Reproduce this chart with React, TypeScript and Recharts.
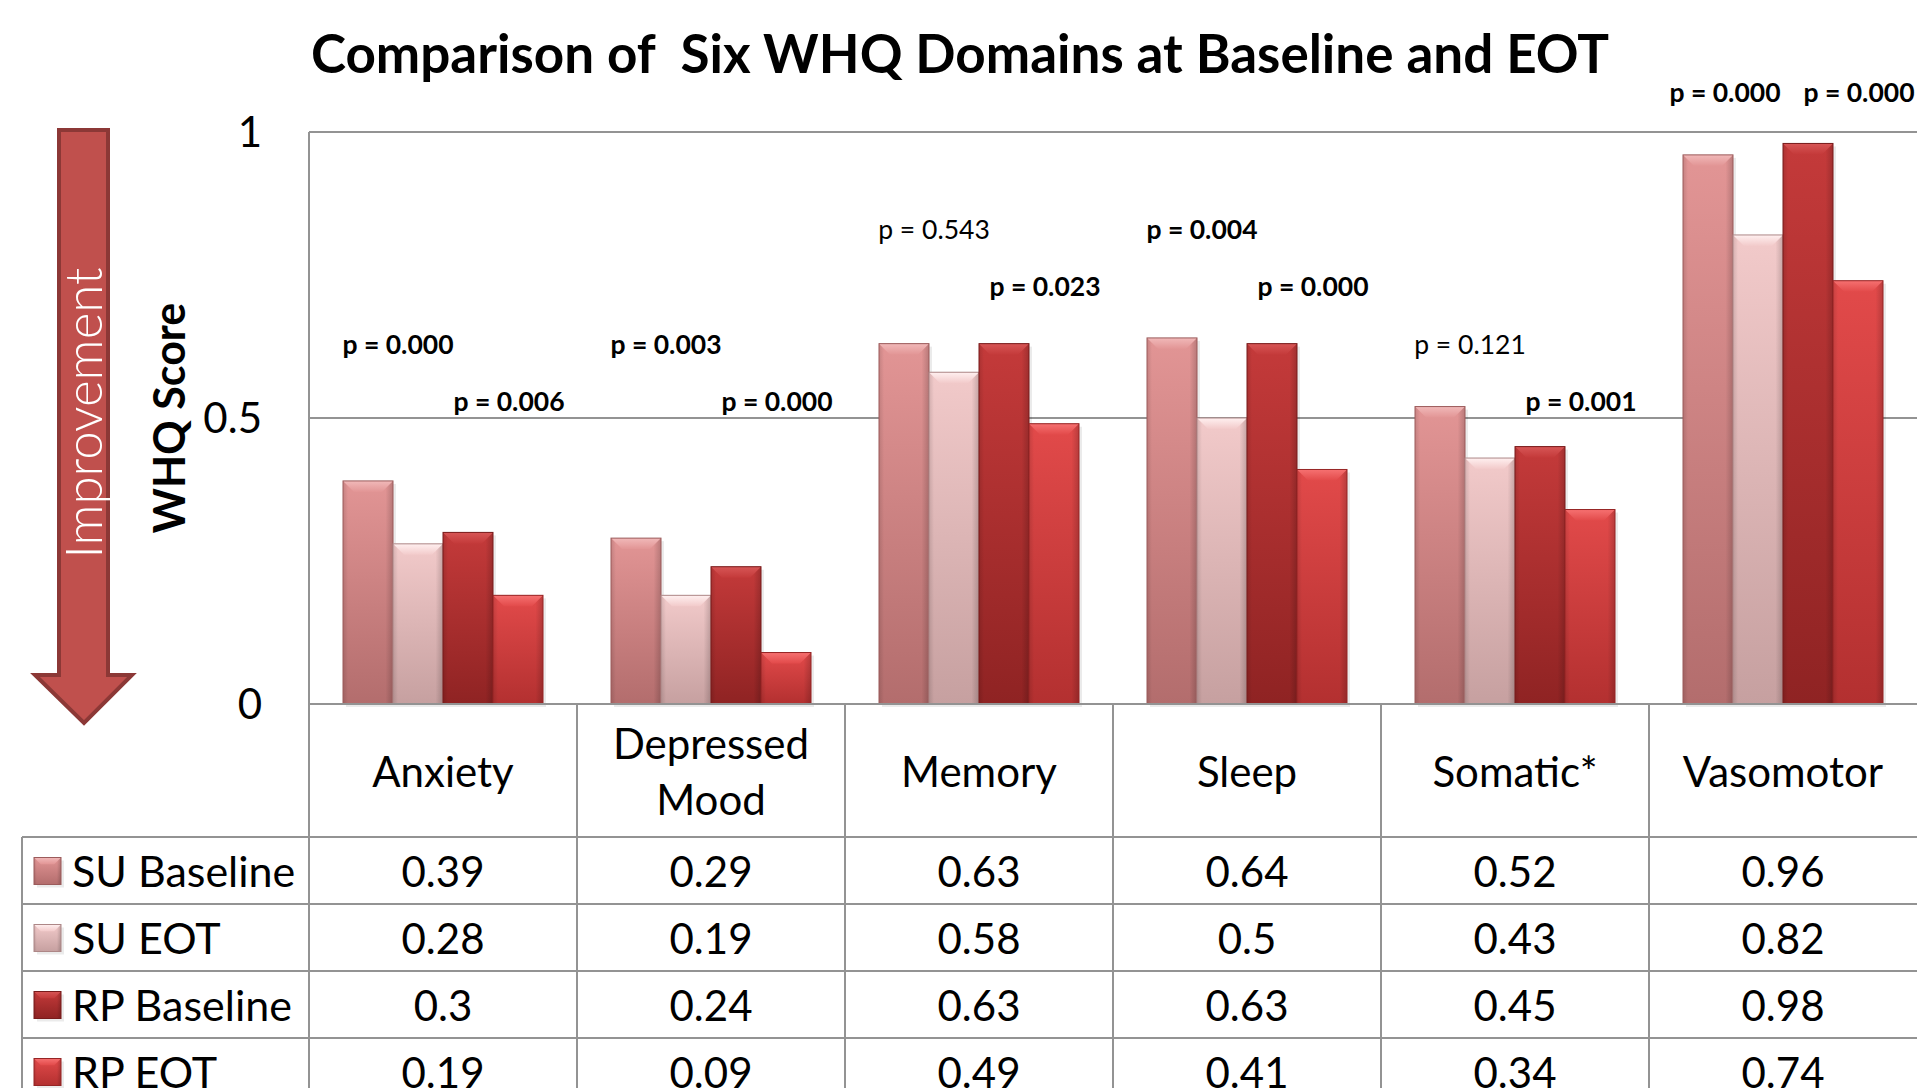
import React from 'react';
import { BarChart, Bar, XAxis, YAxis, CartesianGrid, LabelList } from 'recharts';

const categories = ['Anxiety', 'Depressed Mood', 'Memory', 'Sleep', 'Somatic*', 'Vasomotor'];
const suBaseline = [0.39, 0.29, 0.63, 0.64, 0.52, 0.96];
const suEot = [0.28, 0.19, 0.58, 0.5, 0.43, 0.82];
const rpBaseline = [0.3, 0.24, 0.63, 0.63, 0.45, 0.98];
const rpEot = [0.19, 0.09, 0.49, 0.41, 0.34, 0.74];

// p-values written above the SU pair and the RP pair of each domain
const pSu = ['p = 0.000', 'p = 0.003', 'p = 0.543', 'p = 0.004', 'p = 0.121', 'p = 0.000'];
const pSuBold = [true, true, false, true, false, true];
const pSuLevel = [0.63, 0.63, 0.83, 0.83, 0.63, 1.07];
const pRp = ['p = 0.006', 'p = 0.000', 'p = 0.023', 'p = 0.000', 'p = 0.001', 'p = 0.000'];
const pRpLevel = [0.53, 0.53, 0.73, 0.73, 0.53, 1.07];

const yTicks = [0, 0.5, 1];

const series = [
  { key: 'suBase', name: 'SU Baseline', values: suBaseline },
  { key: 'suEot', name: 'SU EOT', values: suEot },
  { key: 'rpBase', name: 'RP Baseline', values: rpBaseline },
  { key: 'rpEot', name: 'RP EOT', values: rpEot },
];

const data = categories.map((domain, i) => ({
  domain,
  suBase: suBaseline[i],
  suEot: suEot[i],
  rpBase: rpBaseline[i],
  rpEot: rpEot[i],
  pSu: pSu[i],
  pRp: pRp[i],
}));

const FONT = 'Lato, Carlito, Calibri, "DejaVu Sans", sans-serif';
const GRID = '#939393';

const palette: Record<string, { top: string; bottom: string; light: string; edge: string }> = {
  suBase: { top: '#e29595', bottom: '#b36d6d', light: '#f1b9b9', edge: '#9b5b5b' },
  suEot: { top: '#f2caca', bottom: '#c6a0a0', light: '#fff0f0', edge: '#ad8787' },
  rpBase: { top: '#c43a3a', bottom: '#8f2323', light: '#d75656', edge: '#781b1b' },
  rpEot: { top: '#e24a4a', bottom: '#b33030', light: '#f67171', edge: '#962525' },
};

const COL_W = (1917 - 309) / categories.length;
const ROW_H = 67;
const CAT_ROW = 133;

const BevelBar = (props: any) => {
  const { x, y, width, height, seriesKey, bevel = 11 } = props;
  if (!height || height <= 0) return null;
  const c = palette[seriesKey];
  const b = Math.min(bevel, height / 2, width / 4);
  return (
    <g>
      <rect x={x + 3} y={y + 3} width={width} height={height} fill="#000" opacity={0.08} />
      <rect x={x} y={y} width={width} height={height} fill={`url(#fill-${seriesKey})`} />
      <rect x={x} y={y} width={width} height={height} fill="url(#sideShade)" />
      <polygon
        points={`${x},${y} ${x + width},${y} ${x + width - b},${y + b} ${x + b},${y + b}`}
        fill={`url(#bevel-${seriesKey})`}
      />
      <rect x={x} y={y} width={width} height={height} fill="none" stroke={c.edge} strokeWidth={1} />
    </g>
  );
};

const makePLabel = (which: 'su' | 'rp') => (props: any) => {
  const vb = props.viewBox || {};
  const x = props.x ?? vb.x;
  const y = props.y ?? vb.y;
  const width = props.width ?? vb.width;
  const height = props.height ?? vb.height;
  const i = props.index;
  const v = which === 'su' ? suEot[i] : rpEot[i];
  if (!v || !height) return null;
  const unit = height / v;
  const level = which === 'su' ? pSuLevel[i] : pRpLevel[i];
  const ly = y + height - level * unit;
  // when both labels sit on the same line, push them apart so they don't touch
  const sameLine = pSuLevel[i] === pRpLevel[i];
  const cx = which === 'su' ? x + (sameLine ? -8 : 5) : x + width / 2 + (sameLine ? 1 : -9);
  const bold = which === 'su' ? pSuBold[i] : true;
  return (
    <text
      x={cx}
      y={ly}
      textAnchor="middle"
      dominantBaseline="central"
      fontFamily={FONT}
      fontSize={26.5}
      fontWeight={bold ? 700 : 400}
      fill="#000"
    >
      {props.value}
    </text>
  );
};

const TableTick = (props: any) => {
  const { x, y, payload, index } = props;
  const left = x - COL_W / 2;
  const right = x + COL_W / 2;
  const lines = String(payload.value).split(' ');
  const catMid = y + CAT_ROW / 2;
  const rowsTop = y + CAT_ROW;
  return (
    <g>
      <line x1={left} y1={y} x2={left} y2={y + 400} stroke={GRID} strokeWidth={2} />
      {lines.map((t, k) => (
        <text
          key={k}
          x={x}
          y={catMid + (k - (lines.length - 1) / 2) * 56}
          textAnchor="middle"
          dominantBaseline="central"
          fontFamily={FONT}
          fontSize={42}
          fill="#000"
        >
          {t}
        </text>
      ))}
      {series.map((s, r) => (
        <g key={s.key}>
          <line x1={left} y1={rowsTop + r * ROW_H} x2={right} y2={rowsTop + r * ROW_H} stroke={GRID} strokeWidth={2} />
          <text
            x={x}
            y={rowsTop + r * ROW_H + ROW_H / 2}
            textAnchor="middle"
            dominantBaseline="central"
            fontFamily={FONT}
            fontSize={42}
            fill="#000"
          >
            {s.values[index]}
          </text>
        </g>
      ))}
      <line x1={left} y1={rowsTop + 4 * ROW_H} x2={right} y2={rowsTop + 4 * ROW_H} stroke={GRID} strokeWidth={2} />
      {index === 0 && (
        <g>
          <line x1={22} y1={rowsTop} x2={22} y2={y + 400} stroke={GRID} strokeWidth={2} />
          {series.map((s, r) => {
            const cy = rowsTop + r * ROW_H + ROW_H / 2;
            return (
              <g key={s.key}>
                <line x1={22} y1={rowsTop + r * ROW_H} x2={left} y2={rowsTop + r * ROW_H} stroke={GRID} strokeWidth={2} />
                <BevelBar x={34} y={cy - 13} width={27} height={27} seriesKey={s.key} bevel={7} />
                <text x={72} y={cy} dominantBaseline="central" fontFamily={FONT} fontSize={43} fill="#000">
                  {s.name}
                </text>
              </g>
            );
          })}
          <line x1={22} y1={rowsTop + 4 * ROW_H} x2={left} y2={rowsTop + 4 * ROW_H} stroke={GRID} strokeWidth={2} />
        </g>
      )}
    </g>
  );
};

const AxisTitle = (props: any) => {
  const vb = props.viewBox || { x: 140, y: 132, width: 169, height: 572 };
  const cx = vb.x + 45;
  const cy = vb.y + vb.height / 2;
  return (
    <text
      transform={`translate(${cx},${cy}) rotate(-90)`}
      textAnchor="middle"
      fontFamily={FONT}
      fontSize={43}
      fontWeight={700}
      fill="#000"
    >
      WHQ Score
    </text>
  );
};

export default function App() {
  return (
    <div
      style={{
        position: 'absolute',
        left: 0,
        top: 0,
        width: 1917,
        height: 1088,
        background: '#fff',
        overflow: 'hidden',
        fontFamily: FONT,
      }}
    >
      <BarChart
        width={1917}
        height={1088}
        data={data}
        margin={{ top: 132, right: 0, bottom: 0, left: 140 }}
        barCategoryGap={34}
        barGap={0}
      >
        <CartesianGrid vertical={false} stroke={GRID} strokeWidth={2} />
        <XAxis
          dataKey="domain"
          height={384}
          interval={0}
          axisLine={{ stroke: GRID, strokeWidth: 2 }}
          tickLine={false}
          tickSize={0}
          tickMargin={0}
          tick={<TableTick />}
        />
        <YAxis
          width={169}
          domain={[0, 1]}
          ticks={yTicks}
          axisLine={{ stroke: GRID, strokeWidth: 2 }}
          tickLine={false}
          tickSize={0}
          tickMargin={47}
          tick={{ fontFamily: FONT, fontSize: 42, fill: '#000' }}
          label={<AxisTitle />}
        />
        <Bar dataKey="suBase" name="SU Baseline" isAnimationActive={false} shape={(p: any) => <BevelBar {...p} seriesKey="suBase" />} />
        <Bar dataKey="suEot" name="SU EOT" isAnimationActive={false} shape={(p: any) => <BevelBar {...p} seriesKey="suEot" />}>
          <LabelList dataKey="pSu" content={makePLabel('su')} />
        </Bar>
        <Bar dataKey="rpBase" name="RP Baseline" isAnimationActive={false} shape={(p: any) => <BevelBar {...p} seriesKey="rpBase" />} />
        <Bar dataKey="rpEot" name="RP EOT" isAnimationActive={false} shape={(p: any) => <BevelBar {...p} seriesKey="rpEot" />}>
          <LabelList dataKey="pRp" content={makePLabel('rp')} />
        </Bar>
      </BarChart>

      <svg
        width={1917}
        height={1088}
        style={{ position: 'absolute', left: 0, top: 0, pointerEvents: 'none' }}
      >
        <defs>
          {Object.keys(palette).map((k) => (
            <React.Fragment key={k}>
              <linearGradient id={`fill-${k}`} x1="0" y1="0" x2="0" y2="1">
                <stop offset="0%" stopColor={palette[k].top} />
                <stop offset="100%" stopColor={palette[k].bottom} />
              </linearGradient>
              <linearGradient id={`bevel-${k}`} x1="0" y1="0" x2="0" y2="1">
                <stop offset="0%" stopColor={palette[k].light} />
                <stop offset="100%" stopColor={palette[k].top} />
              </linearGradient>
            </React.Fragment>
          ))}
          <linearGradient id="sideShade" x1="0" y1="0" x2="1" y2="0">
            <stop offset="0%" stopColor="#000" stopOpacity={0.12} />
            <stop offset="10%" stopColor="#000" stopOpacity={0} />
            <stop offset="85%" stopColor="#000" stopOpacity={0} />
            <stop offset="100%" stopColor="#000" stopOpacity={0.18} />
          </linearGradient>
        </defs>
        <text
          x={960}
          y={73}
          textAnchor="middle"
          fontFamily={FONT}
          fontSize={53}
          fontWeight={700}
          fill="#000"
          style={{ whiteSpace: 'pre' }}
        >
          Comparison of  Six WHQ Domains at Baseline and EOT
        </text>
        <polygon
          points="59,130 108,130 108,675 132,675 84,723 35,675 59,675"
          fill="#c0504d"
          stroke="#8c3836"
          strokeWidth={4}
        />
        <text
          transform="translate(102,413) rotate(-90)"
          textAnchor="middle"
          fontFamily={FONT}
          fontSize={51}
          fontWeight={300}
          fill="#fff"
        >
          Improvement
        </text>
      </svg>
    </div>
  );
}
